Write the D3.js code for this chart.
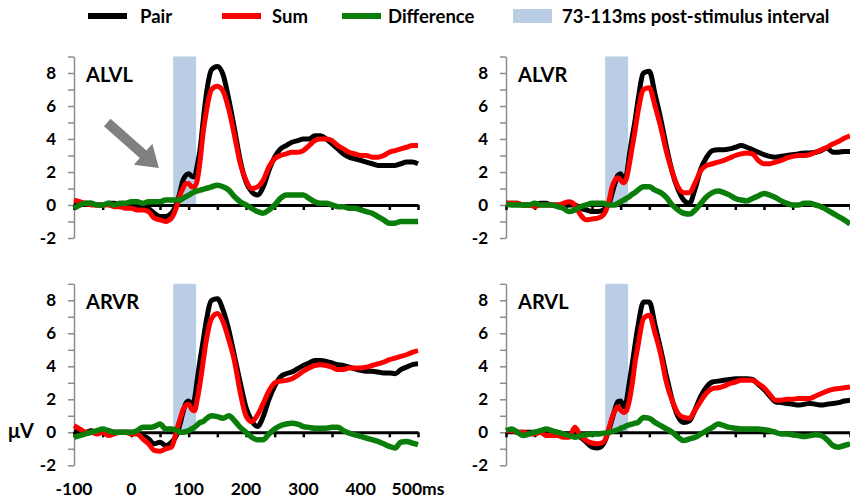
<!DOCTYPE html>
<html>
<head>
<meta charset="utf-8">
<script src="https://cdn.jsdelivr.net/npm/d3@7"></script>
<style>
  body { margin: 0; background: #fff; }
  svg text { font-family: Lato, "Open Sans", sans-serif; font-weight: 700; fill: #000; }
</style>
</head>
<body>
<script>
// sample times (ms), denser around the 73-113ms interval
var times = [
  -100, -90, -80, -70, -60, -50, -40, -30, -20, -10,
  0, 10, 20, 30, 40, 50, 60, 70,
  80, 85, 90, 95, 100, 105, 110, 115, 120, 125, 130,
  140, 150, 160, 170, 180, 190, 200, 210, 220, 230,
  240, 250, 260, 270, 280, 290, 300, 310, 320, 330,
  340, 350, 360, 370, 380, 390, 400, 410, 420, 430,
  440, 450, 460, 470, 480, 490, 500];

var panelNames = ["ALVL", "ALVR", "ARVR", "ARVL"];
var seriesNames = ["Pair", "Sum", "Difference"];
var intervalLabel = "73-113ms post-stimulus interval";
var interval = [73, 113];
var yTicks = [-2, 0, 2, 4, 6, 8];
var xTickLabels = ["-100", "0", "100", "200", "300", "400", "500ms"];
var xTickValues = [-100, 0, 100, 200, 300, 400, 500];

var pairALVL = [
  0.1, 0.0, 0.1, 0.1, 0.0, 0.0, 0.1, 0.1, 0.0, 0.0,
  0.0, -0.1, -0.1, -0.2, -0.5, -0.7, -0.7, -0.5,
  0.2, 0.8, 1.5, 1.8, 1.9, 1.75, 1.7, 2.4, 3.4, 5.0, 6.5,
  8.2, 8.4, 7.9, 6.4, 4.6, 2.7, 1.4, 0.8, 0.6, 1.1,
  2.1, 2.9, 3.4, 3.6, 3.8, 3.9, 4.0, 4.0, 4.2, 4.2,
  4.0, 3.7, 3.4, 3.1, 2.9, 2.8, 2.7, 2.6, 2.5, 2.4,
  2.4, 2.4, 2.4, 2.5, 2.6, 2.6, 2.5];
var sumALVL = [
  0.3, 0.2, 0.1, 0.0, 0.0, 0.0, 0.0, -0.1, -0.1, -0.2,
  -0.2, -0.3, -0.3, -0.4, -0.8, -0.9, -1.0, -0.8,
  0.0, 0.6, 1.0, 1.3, 1.3, 1.1, 1.1, 1.5, 2.7, 4.3, 5.5,
  7.0, 7.2, 6.9, 5.8, 4.2, 2.5, 1.5, 1.0, 1.1, 1.5,
  2.3, 2.8, 3.0, 3.1, 3.2, 3.2, 3.3, 3.6, 3.9, 4.0,
  4.0, 3.9, 3.6, 3.4, 3.2, 3.1, 3.0, 3.0, 2.9, 2.9,
  3.0, 3.2, 3.3, 3.4, 3.5, 3.6, 3.6];
var diffALVL = [
  -0.2, 0.0, 0.1, 0.1, 0.0, 0.0, 0.1, 0.0, 0.1, 0.1,
  0.2, 0.2, 0.1, 0.2, 0.2, 0.2, 0.3, 0.3,
  0.3, 0.3, 0.4, 0.5, 0.6, 0.7, 0.8, 0.85, 0.9, 0.95, 1.0,
  1.1, 1.2, 1.1, 0.9, 0.5, 0.2, 0.0, -0.2, -0.4, -0.5,
  -0.3, 0.0, 0.4, 0.6, 0.6, 0.6, 0.6, 0.4, 0.2, 0.1,
  0.1, 0.0, -0.1, -0.1, -0.2, -0.2, -0.3, -0.4, -0.5, -0.7,
  -0.9, -1.1, -1.1, -1.0, -1.0, -1.0, -1.0];

var pairALVR = [
  0.1, 0.1, 0.1, 0.0, 0.0, 0.0, 0.1, 0.1, 0.0, 0.0,
  -0.1, 0.0, 0.0, -0.2, -0.3, -0.4, -0.4, -0.3,
  0.1, 0.7, 1.3, 1.8, 1.9, 1.55, 1.8, 3.0, 4.1, 5.1, 6.3,
  8.0, 8.1, 6.7, 5.2, 3.5, 2.0, 0.95, 0.3, 0.1, 1.0,
  2.2, 2.9, 3.3, 3.35, 3.35, 3.4, 3.5, 3.6, 3.5, 3.35,
  3.2, 3.05, 2.95, 2.9, 2.95, 3.0, 3.05, 3.1, 3.15, 3.15,
  3.2, 3.3, 3.45, 3.2, 3.2, 3.25, 3.25];
var sumALVR = [
  0.1, 0.1, 0.1, 0.0, 0.0, -0.1, 0.0, 0.0, 0.0, 0.0,
  0.1, 0.2, 0.0, -0.6, -0.9, -0.85, -0.8, -0.6,
  0.3, 1.1, 1.5, 1.65, 1.5, 1.35, 1.6, 2.45, 3.5, 4.5, 5.6,
  7.0, 7.1, 6.0, 4.7, 3.2, 2.0, 1.1, 0.75, 0.75, 1.35,
  2.1, 2.4, 2.5, 2.6, 2.7, 2.85, 3.0, 3.1, 3.15, 3.1,
  2.7, 2.5, 2.5, 2.6, 2.7, 2.85, 2.95, 3.0, 3.0, 3.05,
  3.2, 3.35, 3.5, 3.7, 3.85, 4.05, 4.2];
var diffALVR = [
  0.05, 0.0, 0.0, 0.0, 0.0, 0.1, 0.0, 0.0, 0.0, -0.1,
  -0.2, -0.4, -0.3, -0.1, 0.0, 0.1, 0.1, 0.1,
  0.0, 0.0, 0.0, 0.1, 0.2, 0.3, 0.4, 0.5, 0.65, 0.75, 0.9,
  1.1, 1.1, 0.9, 0.75, 0.45, 0.0, -0.3, -0.5, -0.55, -0.3,
  0.1, 0.5, 0.75, 0.85, 0.75, 0.6, 0.4, 0.3, 0.25, 0.4,
  0.55, 0.7, 0.6, 0.45, 0.25, 0.1, 0.0, 0.0, 0.1, 0.1,
  0.0, -0.1, -0.3, -0.5, -0.7, -0.9, -1.15];

var pairARVR = [
  0.1, 0.0, 0.0, 0.1, 0.0, 0.0, 0.1, 0.0, 0.0, 0.0,
  0.0, -0.1, -0.2, -0.4, -0.7, -0.6, -0.8, -0.6,
  -0.1, 0.5, 1.2, 1.75, 1.9, 1.65, 2.0, 3.2, 4.4, 5.5, 6.6,
  8.0, 8.1, 7.4, 6.2, 4.6, 3.0, 1.5, 0.7, 0.35, 0.95,
  2.0, 2.8, 3.35, 3.55, 3.65, 3.85, 4.05, 4.2, 4.35, 4.35,
  4.3, 4.2, 4.1, 4.05, 3.95, 3.85, 3.75, 3.7, 3.7, 3.65,
  3.6, 3.6, 3.55, 3.8, 3.95, 4.1, 4.15];
var sumARVR = [
  0.4, 0.2, 0.0, 0.0, -0.1, 0.0, -0.2, -0.1, 0.0, 0.0,
  -0.1, -0.1, -0.4, -0.7, -1.1, -1.15, -1.0, -0.9,
  0.25, 0.8, 1.35, 1.65, 1.7, 1.4, 1.3, 2.0, 3.0, 4.2, 5.4,
  6.9, 7.2, 6.7, 5.6, 4.3, 2.4, 1.0, 0.65, 1.05, 1.75,
  2.5, 3.0, 3.1, 3.15, 3.25, 3.45, 3.7, 3.9, 4.05, 4.1,
  4.05, 3.95, 3.8, 3.8, 3.9, 3.9, 3.9, 3.95, 4.05, 4.15,
  4.25, 4.4, 4.5, 4.6, 4.7, 4.85, 4.95];
var diffARVR = [
  -0.3, -0.2, -0.1, 0.0, 0.1, 0.2, 0.1, 0.0, 0.0, 0.0,
  0.0, 0.1, 0.3, 0.3, 0.35, 0.5, 0.2, 0.2,
  0.1, 0.0, 0.0, 0.05, 0.1, 0.2, 0.3, 0.45, 0.6, 0.65, 0.8,
  1.0, 0.95, 0.85, 1.0, 0.7, 0.3, 0.0, -0.3, -0.45, -0.45,
  -0.1, 0.2, 0.4, 0.5, 0.55, 0.5, 0.35, 0.3, 0.25, 0.25,
  0.25, 0.3, 0.3, 0.1, -0.05, -0.15, -0.25, -0.35, -0.45, -0.55,
  -0.7, -0.85, -0.95, -0.6, -0.55, -0.65, -0.75];

var pairARVL = [
  0.1, 0.1, 0.0, 0.0, 0.0, 0.0, 0.0, 0.0, 0.0, 0.0,
  -0.1, -0.1, -0.2, -0.3, -0.6, -0.9, -0.95, -0.7,
  0.2, 0.8, 1.4, 1.85, 1.9, 1.55, 1.9, 3.0, 4.1, 5.3, 6.4,
  7.9, 7.9, 6.5, 5.0, 3.4, 1.95, 0.95, 0.6, 0.7, 1.4,
  2.2, 2.75, 3.05, 3.1, 3.15, 3.2, 3.25, 3.25, 3.25, 3.2,
  2.9, 2.6, 2.2, 1.85, 1.8, 1.75, 1.7, 1.65, 1.7, 1.75,
  1.7, 1.65, 1.7, 1.75, 1.8, 1.9, 1.95];
var sumARVL = [
  0.1, 0.1, 0.0, 0.0, -0.1, -0.1, 0.0, -0.2, -0.2, -0.2,
  -0.3, -0.3, 0.3, -0.2, -0.5, -0.65, -0.7, -0.6,
  0.3, 0.9, 1.3, 1.55, 1.35, 1.2, 1.3, 1.9, 2.9, 4.2, 5.2,
  6.9, 7.1, 6.0, 4.7, 3.0, 1.9, 1.15, 0.9, 0.85, 1.35,
  1.9, 2.4, 2.65, 2.7, 2.8, 2.95, 3.05, 3.15, 3.15, 3.15,
  2.95, 2.7, 2.3, 1.95, 1.95, 2.0, 2.0, 2.05, 2.05, 2.05,
  2.2, 2.35, 2.5, 2.6, 2.65, 2.7, 2.75];
var diffARVL = [
  0.1, 0.2, 0.0, -0.2, -0.1, 0.0, 0.1, 0.2, 0.1, 0.0,
  -0.1, -0.2, -0.3, -0.2, -0.15, -0.1, -0.1, -0.05,
  0.0, 0.05, 0.1, 0.15, 0.25, 0.3, 0.4, 0.45, 0.5, 0.55, 0.6,
  0.9, 0.85, 0.6, 0.4, 0.2, 0.0, -0.3, -0.5, -0.4, -0.3,
  -0.1, 0.1, 0.3, 0.5, 0.4, 0.3, 0.25, 0.2, 0.2, 0.2,
  0.2, 0.15, 0.1, 0.0, -0.1, -0.1, -0.15, -0.2, -0.25, -0.2,
  -0.15, -0.2, -0.45, -0.8, -0.9, -0.8, -0.7];

var colors = ["#000000", "#ff0000", "#0a7d0a"];
var widths = [5, 5, 5.5];
var bandColor = "#b9cde5";

var panels = [
  {name: panelNames[0], series: [pairALVL, sumALVL, diffALVL], col: 0, row: 0},
  {name: panelNames[1], series: [pairALVR, sumALVR, diffALVR], col: 1, row: 0},
  {name: panelNames[2], series: [pairARVR, sumARVR, diffARVR], col: 0, row: 1},
  {name: panelNames[3], series: [pairARVL, sumARVL, diffARVL], col: 1, row: 1}
];

var width = 850, height = 500;
var colX = [74, 506], plotW = 344;
var rowTop = [56.5, 283.8], rowBottom = [238, 465.3];

var svg = d3.select("body").append("svg")
    .attr("width", width)
    .attr("height", height);

// legend
var legend = svg.append("g");
var legendX = [88, 222, 342];
seriesNames.forEach(function(name, i) {
  legend.append("line")
      .attr("x1", legendX[i]).attr("x2", legendX[i] + 39)
      .attr("y1", 16).attr("y2", 16)
      .attr("stroke", colors[i]).attr("stroke-width", 6);
  legend.append("text")
      .attr("x", legendX[i] + [52, 50, 46][i]).attr("y", 23)
      .style("font-size", "18.5px")
      .text(name);
});
legend.append("rect")
    .attr("x", 513).attr("y", 9).attr("width", 39).attr("height", 14)
    .attr("fill", bandColor);
legend.append("text")
    .attr("x", 562).attr("y", 23)
    .style("font-size", "18.5px")
    .text(intervalLabel);

panels.forEach(function(p) {
  var x = d3.scaleLinear().domain([-100, 500]).range([colX[p.col], colX[p.col] + plotW]);
  var y = d3.scaleLinear().domain([-2, 9]).range([rowBottom[p.row], rowTop[p.row]]);
  var g = svg.append("g");

  // stimulus interval band
  g.append("rect")
      .attr("x", x(interval[0]))
      .attr("width", x(interval[1]) - x(interval[0]))
      .attr("y", y(9))
      .attr("height", y(0) - y(9))
      .attr("fill", bandColor);

  // y axis
  var yAxis = d3.axisLeft(y)
      .tickValues(d3.range(-2, 10, 1))
      .tickSize(6).tickSizeOuter(0).tickPadding(12)
      .tickFormat(function(d) { return yTicks.indexOf(d) >= 0 ? d : ""; });
  var ya = g.append("g")
      .attr("transform", "translate(" + x(-100) + ",0)")
      .call(yAxis);
  ya.select(".domain").attr("stroke", "#8c8c8c").attr("stroke-width", 1.5);
  ya.selectAll(".tick line").attr("stroke", "#8c8c8c").attr("stroke-width", 1.5);
  ya.selectAll(".tick text")
      .style("font-size", "17px").style("font-family", "Lato, sans-serif")
      .style("font-weight", 700).attr("fill", "#000");

  // zero line with 50ms ticks
  var xa = g.append("g")
      .attr("transform", "translate(0," + y(0) + ")")
      .call(d3.axisBottom(x).tickValues(d3.range(-100, 501, 50))
        .tickSize(5).tickSizeOuter(0).tickFormat(""));
  xa.select(".domain").attr("stroke", "#000").attr("stroke-width", 3);
  xa.selectAll(".tick line").attr("stroke", "#000").attr("stroke-width", 2.5);

  // curves
  var line = d3.line()
      .x(function(d, i) { return x(times[i]); })
      .y(function(d) { return y(d); })
      .curve(d3.curveMonotoneX);
  p.series.forEach(function(s, i) {
    g.append("path")
        .datum(s)
        .attr("fill", "none")
        .attr("stroke", colors[i])
        .attr("stroke-width", widths[i])
        .attr("stroke-linejoin", "round")
        .attr("d", line);
  });

  g.append("text")
      .attr("x", x(-100) + 12)
      .attr("y", y(8) + 8.5)
      .style("font-size", "20px")
      .text(p.name);

  if (p.col === 0 && p.row === 0) {
    // grey arrow pointing at the early interval
    var tail = [x(-42), y(5.0)], tip = [x(48), y(2.24)];
    var dx = tip[0] - tail[0], dy = tip[1] - tail[1];
    var len = Math.sqrt(dx * dx + dy * dy);
    var ux = dx / len, uy = dy / len, nx = -uy, ny = ux;
    var headLen = 21, shaftW = 5, headW = 14;
    var bx = tip[0] - ux * headLen, by = tip[1] - uy * headLen;
    var pts = [
      [tail[0] + nx * shaftW, tail[1] + ny * shaftW],
      [bx + nx * shaftW, by + ny * shaftW],
      [bx + nx * headW, by + ny * headW],
      tip,
      [bx - nx * headW, by - ny * headW],
      [bx - nx * shaftW, by - ny * shaftW],
      [tail[0] - nx * shaftW, tail[1] - ny * shaftW]
    ];
    g.append("path")
        .attr("d", "M" + pts.join("L") + "Z")
        .attr("fill", "#808080");
  }

  if (p.col === 0 && p.row === 1) {
    g.selectAll(".xlab")
        .data(xTickValues)
      .enter().append("text")
        .attr("x", function(d) { return x(d); })
        .attr("y", 495)
        .attr("text-anchor", "middle")
        .style("font-size", "17.5px")
        .text(function(d, i) { return xTickLabels[i]; });
    g.append("text")
        .attr("x", 8).attr("y", y(0) + 6)
        .style("font-size", "20px")
        .text("μV");
  }
});
</script>
</body>
</html>
